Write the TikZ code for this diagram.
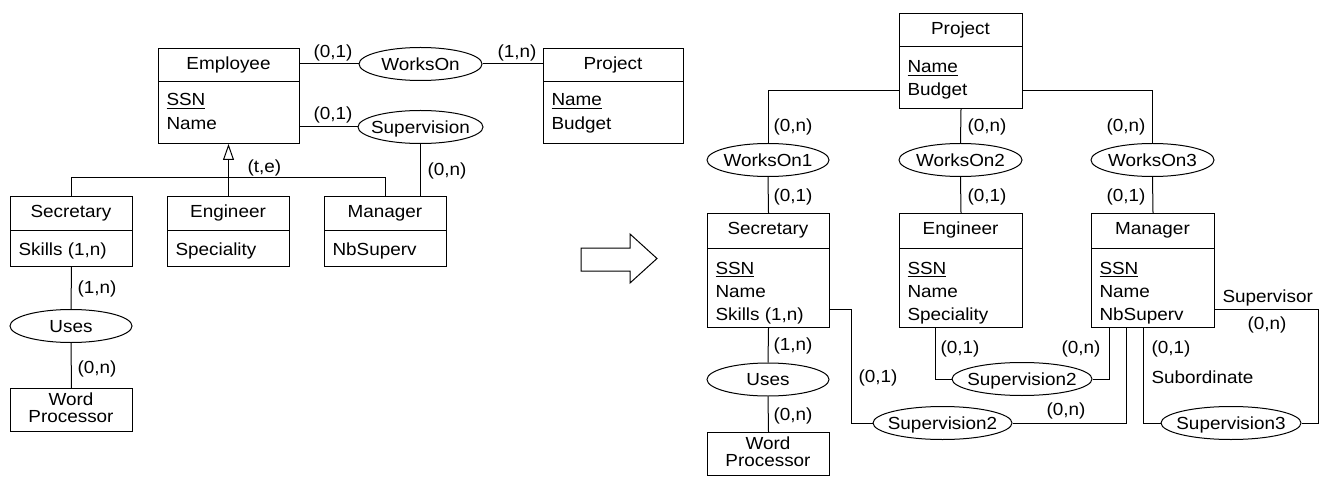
\documentclass[tikz,border=0pt]{standalone}
\usepackage{fontspec}
\setmainfont{Liberation Sans}[FakeStretch=1.08]
\usetikzlibrary{shapes.geometric,arrows.meta}
\newcommand\ulx[1]{\begingroup\setbox0=\hbox{#1}\rlap{\rule[-3.4bp]{\wd0}{1bp}}\box0\endgroup}
\begin{document}
\begin{tikzpicture}[x=1bp, y=-1bp, line width=1bp,
  every node/.style={font=\fontsize{17.5bp}{20bp}\selectfont},
  ent/.style={draw, rectangle, anchor=north west, inner sep=0pt, line width=1bp},
  rel/.style={draw, ellipse, inner sep=0pt, minimum height=33bp, line width=1bp},
  lt/.style={inner sep=0pt, anchor=base west},
  ct/.style={inner sep=0pt, anchor=base},
  rt/.style={inner sep=0pt, anchor=base east},
  rl/.style={inner sep=0pt, text height=12.6bp, text depth=0pt}]
\fill[white] (0,0) rectangle (1336,487);
\useasboundingbox (0,0) rectangle (1336,487);

% ---------------- left diagram ----------------
\node[ent, minimum width=141bp, minimum height=95bp] (emp) at (158,48) {};
\draw (emp.west |- 0,81.5) -- (emp.east |- 0,81.5);
\node[ct] (empH) at (228.5,69.5) {Employee};
\node[lt] (empA) at (166,106) {\ulx{SSN}};
\node[lt] (empB) at (166,129.5) {Name};

\node[ent, minimum width=140bp, minimum height=95bp] (lprj) at (543,48) {};
\draw (lprj.west |- 0,82) -- (lprj.east |- 0,82);
\node[ct] (lprjH) at (613,69.5) {Project};
\node[lt] (lprjA) at (551,106) {\ulx{Name}};
\node[lt] (lprjB) at (551,129.5) {Budget};

\node[rel, minimum width=123bp, label={[rl]center:WorksOn}] (wo) at (420.5,64) {};
\node[rel, minimum width=125bp, label={[rl]center:Supervision}] (sup) at (420.5,127) {};

\node[ent, minimum width=122bp, minimum height=70bp] (lsec) at (10,196) {};
\draw (lsec.west |- 0,231) -- (lsec.east |- 0,231);
\node[ct] (lsecH) at (71,217.5) {Secretary};
\node[lt] (lsecA) at (18,256) {Skills (1,n)};

\node[ent, minimum width=122bp, minimum height=70bp] (leng) at (167,196) {};
\draw (leng.west |- 0,231) -- (leng.east |- 0,231);
\node[ct] (lengH) at (228,217.5) {Engineer};
\node[lt] (lengA) at (175,256) {Speciality};

\node[ent, minimum width=122bp, minimum height=70bp] (lman) at (324,196) {};
\draw (lman.west |- 0,231) -- (lman.east |- 0,231);
\node[ct] (lmanH) at (385,217.5) {Manager};
\node[lt] (lmanA) at (332,256) {NbSuperv};

\node[rel, minimum width=122bp, label={[rl]center:Uses}] (luse) at (71,326) {};
\node[ent, minimum width=122bp, minimum height=43bp] (lwp) at (10,388) {};
\node[ct] (lwpA) at (71,405) {Word};
\node[ct] (lwpB) at (71,422.5) {Processor};

\draw (emp.east |- wo) -- (wo.west);
\draw (wo.east) -- (wo.east -| lprj.west);
\draw (emp.east |- sup) -- (sup.west);
\draw (sup.south) -- (sup.south |- lman.north);
\draw[-{Triangle[open,length=16bp,width=11bp]}] (leng.north) -- (leng.north |- emp.south);
\draw (lsec.north) -- (lsec.north |- 0,178) -- (lman.north |- 0,178) -- (lman.north);
\draw (lsec.south) -- (luse.north);
\draw (luse.south) -- (lwp.north);

\node[ct] (l1) at (333,58) {(0,1)};
\node[ct] (l2) at (517,58) {(1,n)};
\node[ct] (l3) at (333,120) {(0,1)};
\node[lt] (l4) at (427,176) {(0,n)};
\node[lt] (l5) at (247,173) {(t,e)};
\node[lt] (l6) at (77,293.5) {(1,n)};
\node[lt] (l7) at (77,373) {(0,n)};

% ---------------- arrow ----------------
\draw (581,248) -- (630,248) -- (630,234) -- (657,258.5) -- (630,283) -- (630,271) -- (581,271) -- cycle;

% ---------------- right diagram ----------------
\node[ent, minimum width=123bp, minimum height=95bp] (rprj) at (899,13) {};
\draw (rprj.west |- 0,47) -- (rprj.east |- 0,47);
\node[ct] (rprjH) at (960.5,34.5) {Project};
\node[lt] (rprjA) at (907,73) {\ulx{Name}};
\node[lt] (rprjB) at (907,96) {Budget};

\node[rel, minimum width=122bp, label={[rl]center:WorksOn1}] (wo1) at (768,160) {};
\node[rel, minimum width=123bp, label={[rl]center:WorksOn2}] (wo2) at (960.5,160) {};
\node[rel, minimum width=123bp, label={[rl]center:WorksOn3}] (wo3) at (1152.5,160) {};

\node[ent, minimum width=122bp, minimum height=114bp] (rsec) at (707,213) {};
\draw (rsec.west |- 0,248) -- (rsec.east |- 0,248);
\node[ct] (rsecH) at (768,234.5) {Secretary};
\node[lt] (rsecA) at (715,274) {\ulx{SSN}};
\node[lt] (rsecB) at (715,297) {Name};
\node[lt] (rsecC) at (715,320) {Skills (1,n)};

\node[ent, minimum width=123bp, minimum height=114bp] (reng) at (899,213) {};
\draw (reng.west |- 0,248) -- (reng.east |- 0,248);
\node[ct] (rengH) at (960.5,234.5) {Engineer};
\node[lt] (rengA) at (907,274) {\ulx{SSN}};
\node[lt] (rengB) at (907,297) {Name};
\node[lt] (rengC) at (907,320) {Speciality};

\node[ent, minimum width=123bp, minimum height=114bp] (rman) at (1091,213) {};
\draw (rman.west |- 0,248) -- (rman.east |- 0,248);
\node[ct] (rmanH) at (1152.5,234.5) {Manager};
\node[lt] (rmanA) at (1099,274) {\ulx{SSN}};
\node[lt] (rmanB) at (1099,297) {Name};
\node[lt] (rmanC) at (1099,320) {NbSuperv};

\node[rel, minimum width=122bp, label={[rl]center:Uses}] (ruse) at (768,379.5) {};
\node[ent, minimum width=122bp, minimum height=43bp] (rwp) at (707,432) {};
\node[ct] (rwpA) at (768,449) {Word};
\node[ct] (rwpB) at (768,466.5) {Processor};

\node[rel, minimum width=140bp, label={[rl]center:Supervision2}] (s2m) at (1022,379) {};
\node[rel, minimum width=139bp, label={[rl]center:Supervision2}] (s2b) at (942.5,423) {};
\node[rel, minimum width=140bp, label={[rl]center:Supervision3}] (s3) at (1231,423) {};

\coordinate (k1) at (851.5,423);
\coordinate (k2) at (1318,309);

\draw (rprj.west |- 0,91) -| (wo1.north);
\draw (rprj.south) -- (wo2.north);
\draw (rprj.east |- 0,91) -| (wo3.north);
\draw (wo1.south) -- (rsec.north);
\draw (wo2.south) -- (reng.north);
\draw (wo3.south) -- (rman.north);
\draw (rsec.south) -- (ruse.north);
\draw (ruse.south) -- (rwp.north);
\draw (rsec.east |- k2) -| (k1) -- (s2b.west);
\draw (s2b.east) -| (1126,0 |- rman.south);
\draw (935,0 |- reng.south) |- (s2m.west);
\draw (s2m.east) -| (1109,0 |- rman.south);
\draw (1143,0 |- rman.south) |- (s3.west);
\draw (s3.east) -| (k2) -- (rman.east |- k2);

\node[lt] (r1) at (773,132) {(0,n)};
\node[lt] (r2) at (773,202) {(0,1)};
\node[lt] (r3) at (967,132) {(0,n)};
\node[lt] (r4) at (967,202) {(0,1)};
\node[rt] (r5) at (1146,132) {(0,n)};
\node[rt] (r6) at (1146,202) {(0,1)};
\node[lt] (r7) at (773,350) {(1,n)};
\node[lt] (r8) at (773,420) {(0,n)};
\node[lt] (r9) at (858,382) {(0,1)};
\node[lt] (r10) at (940,353) {(0,1)};
\node[rt] (r11) at (1101,353) {(0,n)};
\node[lt] (r12) at (1046,415) {(0,n)};
\node[lt] (r13) at (1151,353) {(0,1)};
\node[lt] (r14) at (1151,383) {Subordinate};
\node[lt] (r15) at (1222,302) {Supervisor};
\node[lt] (r16) at (1247,329) {(0,n)};
\end{tikzpicture}
\end{document}
